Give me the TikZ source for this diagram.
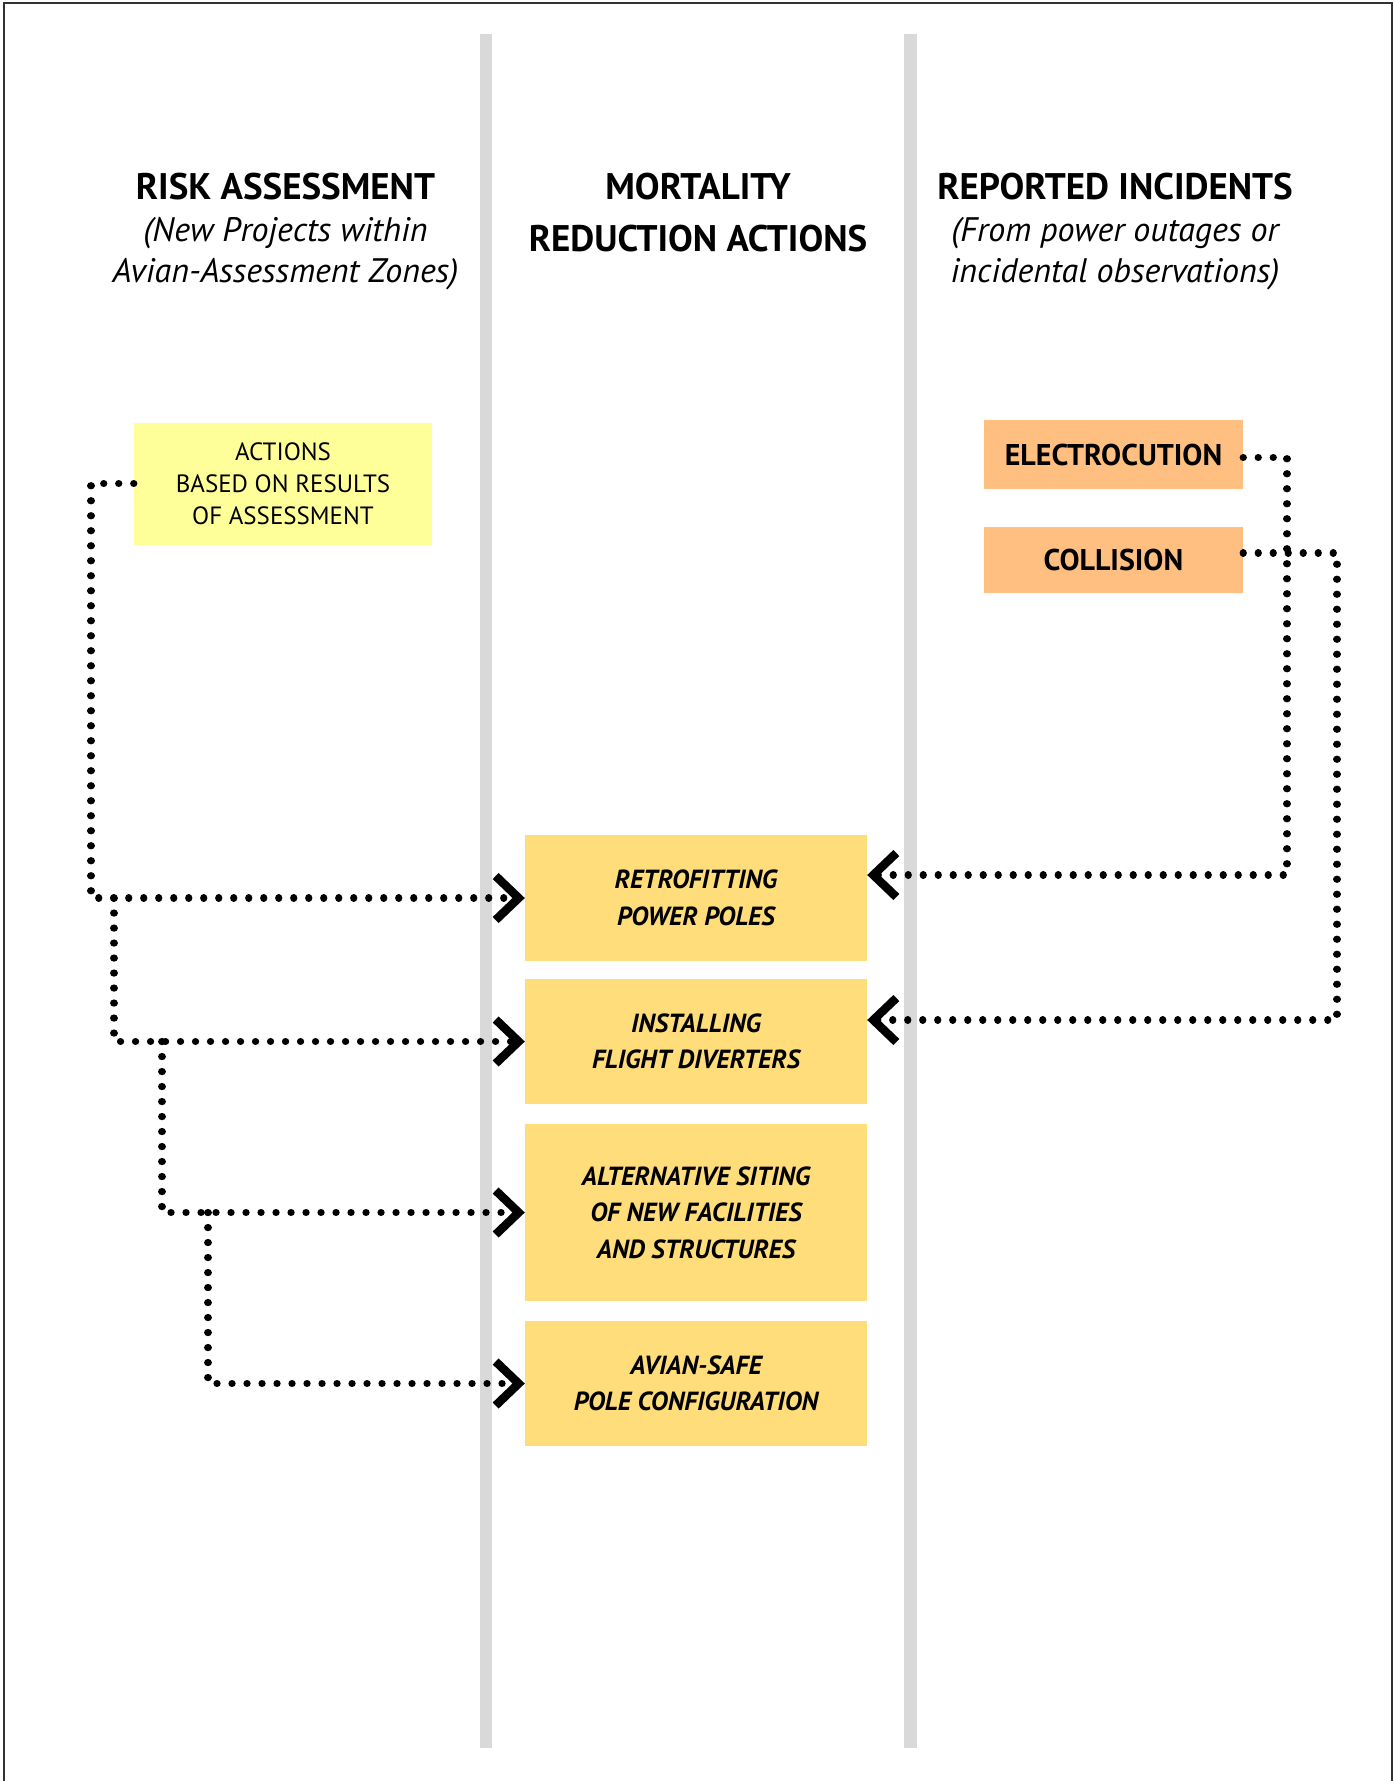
\documentclass[tikz,border=0pt]{standalone}
\usepackage{fontspec}
\setmainfont{PT Sans}
\usetikzlibrary{arrows.meta}
\definecolor{lyellow}{RGB}{255,255,153}
\definecolor{orangebox}{RGB}{255,191,128}
\definecolor{goldbox}{RGB}{255,221,122}
\definecolor{bargray}{RGB}{217,217,217}
\definecolor{framegray}{RGB}{50,50,50}
\tikzset{
  hdr/.style={align=center, inner sep=0pt, anchor=north, font=\fontsize{34}{41.5}\selectfont},
  actbox/.style={fill=lyellow, minimum width=298pt, minimum height=122pt, inner sep=0pt, align=center, font=\fontsize{25}{32}\selectfont},
  incbox/.style={fill=orangebox, minimum width=259pt, inner sep=0pt, font=\fontsize{30}{34}\selectfont\bfseries},
  midbox/.style={fill=goldbox, minimum width=342pt, inner sep=0pt, align=center, font=\fontsize{26.2}{36.5}\selectfont\bfseries\itshape},
  conn/.style={line width=7.2pt, line cap=round, dash pattern=on 0.1pt off 14.9pt,
    -{Straight Barb[length=23pt, width=44pt, line width=8.5pt, sharp]}}
}
\begin{document}
\begin{tikzpicture}[x=1pt, y=-1pt]
\useasboundingbox (0,0) rectangle (1395,1781);
% frame
\draw[framegray, line width=2.5pt] (4,1781) -- (4,3) -- (1392,3) -- (1392,1781);
% column separators
\fill[bargray] (480,34) rectangle (492,1748);
\fill[bargray] (904,34) rectangle (917,1748);
% headers
\node[hdr] (h1) at (285.5,173) {{\fontsize{37}{41.5}\selectfont\bfseries RISK ASSESSMENT}\\ \itshape (New Projects within\\ \itshape Avian-Assessment Zones)};
\node[hdr, font=\fontsize{37}{52}\selectfont\bfseries] (h2) at (698,173) {MORTALITY\\ REDUCTION ACTIONS};
\node[hdr] (h3) at (1115,173) {{\fontsize{37}{41.5}\selectfont\bfseries REPORTED INCIDENTS}\\ \itshape (From power outages or\\ \itshape incidental observations)};
% boxes
\node[actbox] (act) at (283,483.5) {ACTIONS\\ BASED ON RESULTS\\ OF ASSESSMENT};
\node[incbox, minimum height=69pt] (elec) at (1113.5,454.5) {ELECTROCUTION};
\node[incbox, minimum height=66pt] (coll) at (1113.5,560) {COLLISION};
\node[midbox, minimum height=126pt] (retro) at (696,898) {RETROFITTING\\ POWER POLES};
\node[midbox, minimum height=125pt] (inst) at (696,1041.5) {INSTALLING\\ FLIGHT DIVERTERS};
\node[midbox, minimum height=177pt] (alt) at (696,1212.5) {ALTERNATIVE SITING\\ OF NEW FACILITIES\\ AND STRUCTURES};
\node[midbox, minimum height=125pt] (avian) at (696,1383.5) {AVIAN-SAFE\\ POLE CONFIGURATION};
% left connectors
\coordinate (a1) at (91,898);
\coordinate (b0) at (114,898);
\coordinate (c0) at (162,1041.5);
\coordinate (d0) at (208,1212.5);
\draw[conn] (act.west) -| (a1) -- (retro.west);
\draw[conn] (b0) |- (inst.west);
\draw[conn] (c0) |- (alt.west);
\draw[conn] (d0) |- (avian.west);
% right connectors
\coordinate (e1) at (1287,875);
\coordinate (k1) at (1337,1020);
\draw[conn] ([yshift=-3pt]elec.east) -| (e1) -- (e1 -| retro.east);
\draw[conn] ([yshift=7pt]coll.east) -| (k1) -- (k1 -| inst.east);
\end{tikzpicture}
\end{document}
